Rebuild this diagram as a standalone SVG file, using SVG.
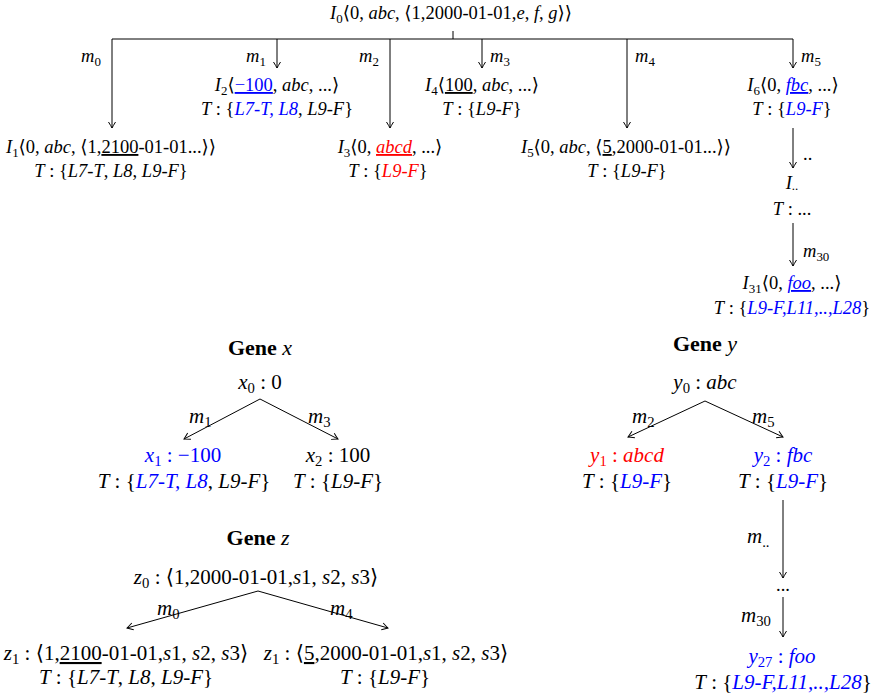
<svg xmlns="http://www.w3.org/2000/svg" width="873" height="698" viewBox="0 0 873 698">
<style>
text{font-family:"Liberation Serif","DejaVu Serif",serif;font-size:18.5px;fill:#000}
.G text{font-size:21px}
.i{font-style:italic}
.s{font-size:70%}
.b{fill:#0000ff}
.r{fill:#ff0000}
.u{text-decoration:underline}
.G text.g{font-weight:bold;font-size:22px}
.c line{stroke:#000;stroke-width:1;fill:none}
.a{marker-end:url(#ah)}
</style>
<defs>
<marker id="ah" markerWidth="10" markerHeight="10" refX="0" refY="0" viewBox="-7 -5 8 10" markerUnits="userSpaceOnUse" orient="auto">
<path d="M-6,-3.5 Q-2,-1 0,0 Q-2,1 -6,3.5" fill="none" stroke="#000" stroke-width="1"/>
</marker>
</defs>
<g class="c" id="connectors">
<line x1="112" y1="39" x2="793" y2="39"/>
<line x1="453" y1="31" x2="453" y2="39"/>
<line class="a" x1="112" y1="39" x2="112" y2="128"/>
<line class="a" x1="277" y1="39" x2="277" y2="68"/>
<line class="a" x1="390" y1="39" x2="390" y2="128"/>
<line class="a" x1="482" y1="39" x2="482" y2="68"/>
<line class="a" x1="627" y1="39" x2="627" y2="128"/>
<line class="a" x1="793" y1="39" x2="793" y2="68"/>
<line class="a" x1="793" y1="128" x2="793" y2="168"/>
<line class="a" x1="793" y1="223" x2="793" y2="266"/>
<line class="a" x1="260" y1="399" x2="184" y2="439"/>
<line class="a" x1="260" y1="399" x2="338" y2="439"/>
<line class="a" x1="705" y1="401" x2="628" y2="437"/>
<line class="a" x1="705" y1="401" x2="783" y2="437"/>
<line class="a" x1="783" y1="500" x2="783" y2="578"/>
<line class="a" x1="783" y1="597" x2="783" y2="637"/>
<line class="a" x1="258" y1="591" x2="127" y2="628"/>
<line class="a" x1="258" y1="591" x2="388" y2="628"/>
</g>
<g id="edge-labels">
<text x="81" y="62"><tspan class="i">m</tspan><tspan class="s" dy="4">0</tspan></text>
<text x="246" y="62"><tspan class="i">m</tspan><tspan class="s" dy="4">1</tspan></text>
<text x="359" y="62"><tspan class="i">m</tspan><tspan class="s" dy="4">2</tspan></text>
<text x="490" y="62"><tspan class="i">m</tspan><tspan class="s" dy="4">3</tspan></text>
<text x="635" y="62"><tspan class="i">m</tspan><tspan class="s" dy="4">4</tspan></text>
<text x="801" y="62"><tspan class="i">m</tspan><tspan class="s" dy="4">5</tspan></text>
<text x="803" y="160">..</text>
<text x="803" y="257"><tspan class="i">m</tspan><tspan class="s" dy="4">30</tspan></text>
</g>
<g id="gene-x-labels" class="G">
<text x="189" y="423"><tspan class="i">m</tspan><tspan class="s" dy="4">1</tspan></text>
<text x="308" y="423"><tspan class="i">m</tspan><tspan class="s" dy="4">3</tspan></text>
</g>
<g id="gene-y-labels" class="G">
<text x="632" y="423"><tspan class="i">m</tspan><tspan class="s" dy="4">2</tspan></text>
<text x="752" y="423"><tspan class="i">m</tspan><tspan class="s" dy="4">5</tspan></text>
<text x="747" y="543"><tspan class="i">m</tspan><tspan class="s" dy="4">..</tspan></text>
<text x="741" y="622"><tspan class="i">m</tspan><tspan class="s" dy="4">30</tspan></text>
</g>
<g id="gene-z-labels" class="G">
<text x="157" y="615"><tspan class="i">m</tspan><tspan class="s" dy="4">0</tspan></text>
<text x="330" y="615"><tspan class="i">m</tspan><tspan class="s" dy="4">4</tspan></text>
</g>
<g id="I0">
<text x="451" y="19" text-anchor="middle"><tspan class="i">I</tspan><tspan class="s" dy="4">0</tspan><tspan dy="-4">⟨0, </tspan><tspan class="i">abc</tspan>, ⟨1,2000-01-01,<tspan class="i">e</tspan>, <tspan class="i">f</tspan>, <tspan class="i">g</tspan>⟩⟩</text>
</g>
<g id="I1">
<text x="111" y="153" text-anchor="middle"><tspan class="i">I</tspan><tspan class="s" dy="4">1</tspan><tspan dy="-4">⟨0, </tspan><tspan class="i">abc</tspan>, ⟨1,<tspan class="u">2100</tspan>-01-01...⟩⟩</text>
<text x="111" y="177" text-anchor="middle"><tspan class="i">T</tspan> : {<tspan class="i">L7-T</tspan>, <tspan class="i">L8</tspan>, <tspan class="i">L9-F</tspan>}</text>
</g>
<g id="I2">
<text x="277" y="91" text-anchor="middle"><tspan class="i">I</tspan><tspan class="s" dy="4">2</tspan><tspan dy="-4">⟨</tspan><tspan class="b u">−100</tspan>, <tspan class="i">abc</tspan>, ...⟩</text>
<text x="277" y="115" text-anchor="middle"><tspan class="i">T</tspan> : {<tspan class="i b">L7-T, L8</tspan>, <tspan class="i">L9-F</tspan>}</text>
</g>
<g id="I3">
<text x="390" y="153" text-anchor="middle"><tspan class="i">I</tspan><tspan class="s" dy="4">3</tspan><tspan dy="-4">⟨0, </tspan><tspan class="i r u">abcd</tspan>, ...⟩</text>
<text x="388" y="177" text-anchor="middle"><tspan class="i">T</tspan> : {<tspan class="i r">L9-F</tspan>}</text>
</g>
<g id="I4">
<text x="482" y="91" text-anchor="middle"><tspan class="i">I</tspan><tspan class="s" dy="4">4</tspan><tspan dy="-4">⟨</tspan><tspan class="u">100</tspan>, <tspan class="i">abc</tspan>, ...⟩</text>
<text x="482" y="115" text-anchor="middle"><tspan class="i">T</tspan> : {<tspan class="i">L9-F</tspan>}</text>
</g>
<g id="I5">
<text x="626" y="153" text-anchor="middle"><tspan class="i">I</tspan><tspan class="s" dy="4">5</tspan><tspan dy="-4">⟨0, </tspan><tspan class="i">abc</tspan>, ⟨<tspan class="u">5</tspan>,2000-01-01...⟩⟩</text>
<text x="627" y="177" text-anchor="middle"><tspan class="i">T</tspan> : {<tspan class="i">L9-F</tspan>}</text>
</g>
<g id="I6">
<text x="793" y="91" text-anchor="middle"><tspan class="i">I</tspan><tspan class="s" dy="4">6</tspan><tspan dy="-4">⟨0, </tspan><tspan class="i b u">fbc</tspan>, ...⟩</text>
<text x="792" y="115" text-anchor="middle"><tspan class="i">T</tspan> : {<tspan class="i b">L9-F</tspan>}</text>
</g>
<g id="Idots">
<text x="792" y="189" text-anchor="middle"><tspan class="i">I</tspan><tspan class="s" dy="1">..</tspan></text>
<text x="792" y="215" text-anchor="middle"><tspan class="i">T</tspan> : ...</text>
</g>
<g id="I31">
<text x="792" y="289" text-anchor="middle"><tspan class="i">I</tspan><tspan class="s" dy="4">31</tspan><tspan dy="-4">⟨0, </tspan><tspan class="i b u">foo</tspan>, ...⟩</text>
<text x="792" y="314" text-anchor="middle"><tspan class="i">T</tspan> : {<tspan class="i b">L9-F,L11,..,L28</tspan>}</text>
</g>
<g id="gene-x" class="G">
<text x="260" y="355" text-anchor="middle" class="g">Gene <tspan class="i" font-weight="normal">x</tspan></text>
<text x="260" y="389" text-anchor="middle"><tspan class="i">x</tspan><tspan class="s" dy="4">0</tspan><tspan dy="-4"> : 0</tspan></text>
</g>
<g id="x1" class="G">
<text x="183" y="462" text-anchor="middle" class="b"><tspan class="i">x</tspan><tspan class="s" dy="4">1</tspan><tspan dy="-4"> : −100</tspan></text>
<text x="184" y="488" text-anchor="middle"><tspan class="i">T</tspan> : {<tspan class="i b">L7-T, L8</tspan>, <tspan class="i">L9-F</tspan>}</text>
</g>
<g id="x2" class="G">
<text x="338" y="462" text-anchor="middle"><tspan class="i">x</tspan><tspan class="s" dy="4">2</tspan><tspan dy="-4"> : 100</tspan></text>
<text x="338" y="488" text-anchor="middle"><tspan class="i">T</tspan> : {<tspan class="i">L9-F</tspan>}</text>
</g>
<g id="gene-y" class="G">
<text x="705" y="351" text-anchor="middle" class="g">Gene <tspan class="i" font-weight="normal">y</tspan></text>
<text x="705" y="389" text-anchor="middle"><tspan class="i">y</tspan><tspan class="s" dy="4">0</tspan><tspan dy="-4"> : </tspan><tspan class="i">abc</tspan></text>
</g>
<g id="y1" class="G">
<text x="627" y="462" text-anchor="middle" class="r"><tspan class="i">y</tspan><tspan class="s" dy="4">1</tspan><tspan dy="-4"> : </tspan><tspan class="i">abcd</tspan></text>
<text x="627" y="488" text-anchor="middle"><tspan class="i">T</tspan> : {<tspan class="i b">L9-F</tspan>}</text>
</g>
<g id="y2" class="G">
<text x="783" y="462" text-anchor="middle" class="b"><tspan class="i">y</tspan><tspan class="s" dy="4">2</tspan><tspan dy="-4"> : </tspan><tspan class="i">fbc</tspan></text>
<text x="783" y="488" text-anchor="middle"><tspan class="i">T</tspan> : {<tspan class="i b">L9-F</tspan>}</text>
</g>
<g id="ydots">
<text x="783" y="591" text-anchor="middle" font-size="14">...</text>
</g>
<g id="y27" class="G">
<text x="782" y="663" text-anchor="middle" class="b"><tspan class="i">y</tspan><tspan class="s" dy="4">27</tspan><tspan dy="-4"> : </tspan><tspan class="i">foo</tspan></text>
<text x="783" y="689" text-anchor="middle"><tspan class="i">T</tspan> : {<tspan class="i b">L9-F,L11,..,L28</tspan>}</text>
</g>
<g id="gene-z" class="G">
<text x="258" y="545" text-anchor="middle" class="g">Gene <tspan class="i" font-weight="normal">z</tspan></text>
<text x="256" y="584" text-anchor="middle"><tspan class="i">z</tspan><tspan class="s" dy="4">0</tspan><tspan dy="-4"> : ⟨1,2000-01-01,</tspan><tspan class="i">s</tspan>1, <tspan class="i">s</tspan>2, <tspan class="i">s</tspan>3⟩</text>
</g>
<g id="z1a" class="G">
<text x="126" y="660" text-anchor="middle"><tspan class="i">z</tspan><tspan class="s" dy="4">1</tspan><tspan dy="-4"> : ⟨1,</tspan><tspan class="u">2100</tspan>-01-01,<tspan class="i">s</tspan>1, <tspan class="i">s</tspan>2, <tspan class="i">s</tspan>3⟩</text>
<text x="126" y="684" text-anchor="middle"><tspan class="i">T</tspan> : {<tspan class="i">L7-T</tspan>, <tspan class="i">L8</tspan>, <tspan class="i">L9-F</tspan>}</text>
</g>
<g id="z1b" class="G">
<text x="386" y="660" text-anchor="middle"><tspan class="i">z</tspan><tspan class="s" dy="4">1</tspan><tspan dy="-4"> : ⟨</tspan><tspan class="u">5</tspan>,2000-01-01,<tspan class="i">s</tspan>1, <tspan class="i">s</tspan>2, <tspan class="i">s</tspan>3⟩</text>
<text x="385" y="684" text-anchor="middle"><tspan class="i">T</tspan> : {<tspan class="i">L9-F</tspan>}</text>
</g>
</svg>
